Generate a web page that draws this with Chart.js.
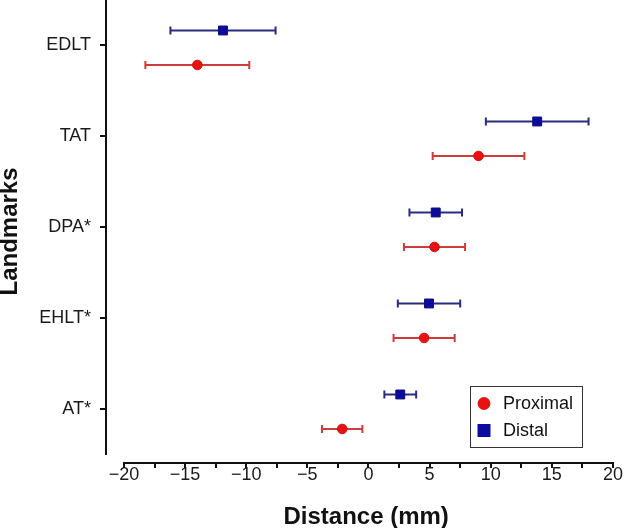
<!DOCTYPE html>
<html>
<head>
<meta charset="utf-8">
<script src="https://cdn.jsdelivr.net/npm/chart.js@4.4.1/dist/chart.umd.min.js"></script>
<style>
  html, body { margin: 0; padding: 0; background: #fff; }
  #wrap { width: 637px; height: 528px; }
</style>
</head>
<body>
<div id="wrap"><canvas id="myChart" width="637" height="528"></canvas></div>
<script>
const landmarks = ['EDLT', 'TAT', 'DPA*', 'EHLT*', 'AT*'];
const proximalMean = [-14.0, 9.0, 5.4, 4.55, -2.15];
const proximalErr  = [4.25, 3.75, 2.5, 2.5, 1.65];
const distalMean   = [-11.9, 13.8, 5.5, 4.95, 2.6];
const distalErr    = [4.3, 4.2, 2.15, 2.55, 1.3];
const xTicks = [-20, -17.5, -15, -12.5, -10, -7.5, -5, -2.5, 0, 2.5, 5, 7.5, 10, 12.5, 15, 17.5, 20];

// vertical nudge of each series around its landmark row
const distalShift = -0.165;
const proximalShift = 0.214;

function toPoints(means, shift) {
  return means.map((m, i) => ({ x: m, y: i + 1 + shift }));
}

// error bars drawn under the markers
const errorBars = {
  id: 'errorBars',
  beforeDatasetsDraw(chart) {
    const ctx = chart.ctx;
    const xs = chart.scales.x, ys = chart.scales.y;
    chart.data.datasets.forEach((ds, d) => {
      if (!chart.isDatasetVisible(d)) return;
      ctx.save();
      ctx.strokeStyle = ds.barColor;
      ctx.lineWidth = 2;
      ds.data.forEach((p, i) => {
        const x1 = xs.getPixelForValue(p.x - ds.errors[i]);
        const x2 = xs.getPixelForValue(p.x + ds.errors[i]);
        const y = ys.getPixelForValue(p.y);
        ctx.beginPath();
        ctx.moveTo(x1, y); ctx.lineTo(x2, y);
        ctx.moveTo(x1, y - 4); ctx.lineTo(x1, y + 4);
        ctx.moveTo(x2, y - 4); ctx.lineTo(x2, y + 4);
        ctx.stroke();
      });
      ctx.restore();
    });
  }
};

// detached axis lines, like the original figure
const axisLines = {
  id: 'axisLines',
  afterDraw(chart) {
    const ctx = chart.ctx;
    const xs = chart.scales.x, ys = chart.scales.y;
    const a = chart.chartArea;
    ctx.save();
    ctx.strokeStyle = '#111';
    ctx.lineWidth = 2;
    ctx.beginPath();
    ctx.moveTo(a.left, ys.getPixelForValue(0.5));
    ctx.lineTo(a.left, ys.getPixelForValue(5.5));
    ctx.moveTo(xs.getPixelForValue(-20) - 1, a.bottom);
    ctx.lineTo(xs.getPixelForValue(20) + 1, a.bottom);
    ctx.stroke();
    ctx.restore();
  }
};

// boxed legend inside the plot area
const boxLegend = {
  id: 'boxLegend',
  afterDraw(chart) {
    const ctx = chart.ctx;
    const left = 470, top = 386, w = 112, h = 61;
    ctx.save();
    ctx.strokeStyle = '#333';
    ctx.lineWidth = 1;
    ctx.strokeRect(left + 0.5, top + 0.5, w, h);
    ctx.font = '18px "Liberation Sans", Arial, sans-serif';
    ctx.textBaseline = 'middle';
    ctx.fillStyle = '#111';
    const order = [1, 0];
    order.forEach((d, k) => {
      const ds = chart.data.datasets[d];
      const cy = top + 17.5 + k * 27;
      ctx.fillStyle = ds.backgroundColor;
      if (ds.pointStyle === 'rect') {
        ctx.fillRect(477.5, cy - 6.5, 13, 13);
      } else {
        ctx.beginPath();
        ctx.arc(484, cy, 6.4, 0, Math.PI * 2);
        ctx.fill();
      }
      ctx.fillStyle = '#111';
      ctx.fillText(ds.label, 503, cy + 1);
    });
    ctx.restore();
  }
};

const tickFont = { family: '"Liberation Sans", Arial, sans-serif', size: 18 };

new Chart('myChart', {
  type: 'scatter',
  data: {
    datasets: [{
      label: 'Distal',
      data: toPoints(distalMean, distalShift),
      errors: distalErr,
      barColor: '#2b2b80',
      pointStyle: 'rect',
      pointRadius: 6.3,
      pointHoverRadius: 6.3,
      backgroundColor: '#0b0ba0',
      borderColor: '#101070',
      borderWidth: 1
    }, {
      label: 'Proximal',
      data: toPoints(proximalMean, proximalShift),
      errors: proximalErr,
      barColor: '#cc3c3c',
      pointStyle: 'circle',
      pointRadius: 4.8,
      pointHoverRadius: 4.8,
      backgroundColor: '#e81212',
      borderColor: '#d01010',
      borderWidth: 1
    }]
  },
  options: {
    responsive: false,
    animation: false,
    devicePixelRatio: 1,
    layout: { autoPadding: false, padding: { left: 0, top: 0, right: 24, bottom: 0 } },
    plugins: {
      legend: { display: false },
      tooltip: { enabled: false }
    },
    scales: {
      x: {
        type: 'linear',
        min: -21.47,
        max: 20,
        afterBuildTicks: s => { s.ticks = xTicks.map(v => ({ value: v })); },
        afterFit: s => { s.height = 65; s.paddingLeft = 0; s.paddingRight = 0; },
        border: { display: false },
        grid: { display: true, drawOnChartArea: false, drawTicks: true, tickLength: 5, color: '#111', lineWidth: 2 },
        ticks: {
          autoSkip: false,
          maxRotation: 0,
          padding: -4,
          color: '#1a1a1a',
          font: tickFont,
          callback: v => (v % 5 === 0 ? String(v).replace('-', '\u2212') : '')
        },
        title: {
          display: true,
          text: '  Distance (mm)',
          color: '#111',
          padding: { top: 0, bottom: -1 },
          font: { family: '"Liberation Sans", Arial, sans-serif', size: 24, weight: 'bold', lineHeight: 1 }
        }
      },
      y: {
        type: 'linear',
        reverse: true,
        min: 0.5,
        max: 5.588,
        afterBuildTicks: s => { s.ticks = landmarks.map((l, i) => ({ value: i + 1 })); },
        afterFit: s => { s.width = 106; s.paddingTop = 0; s.paddingBottom = 0; },
        border: { display: false },
        grid: { display: true, drawOnChartArea: false, drawTicks: true, tickLength: 6, color: '#111', lineWidth: 2 },
        ticks: {
          autoSkip: false,
          padding: 9,
          color: '#1a1a1a',
          font: tickFont,
          callback: v => landmarks[v - 1]
        },
        title: {
          display: true,
          text: 'Landmarks',
          color: '#111',
          padding: 0,
          font: { family: '"Liberation Sans", Arial, sans-serif', size: 24, weight: 'bold', lineHeight: 0.9 }
        }
      }
    }
  },
  plugins: [errorBars, axisLines, boxLegend]
});
</script>
</body>
</html>
